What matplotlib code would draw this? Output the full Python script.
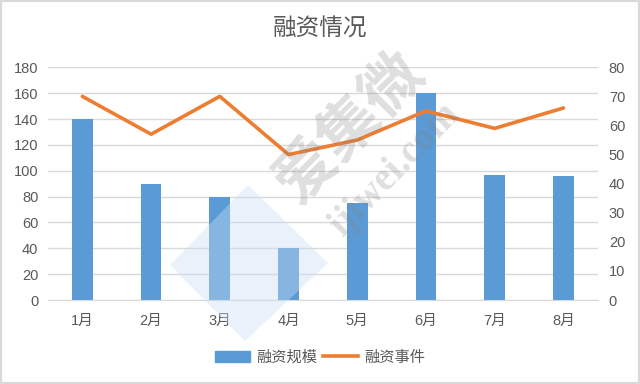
"""
融资情况 - 融资规模(柱) + 融资事件(折线) 双轴图
"""
import numpy as np
import matplotlib.pyplot as plt
from matplotlib.patches import Polygon, Rectangle
from matplotlib.lines import Line2D

plt.rcParams['font.family'] = ['Liberation Sans', 'Noto Sans CJK SC', 'DejaVu Sans']

# 数据
months = ['1月', '2月', '3月', '4月', '5月', '6月', '7月', '8月']
scale = [140, 90, 80, 40, 75, 160, 97, 96]      # 融资规模
events = [70, 57, 70, 50, 55, 65, 59, 66]       # 融资事件

blue = '#5b9bd5'
orange = '#ed7d31'
grid_c = '#d9d9d9'
text_c = '#595959'

fig = plt.figure(figsize=(6.4, 3.84), dpi=100)
ax = fig.add_axes([0.075, 0.21875, 0.859, 0.606])
ax2 = ax.twinx()

x = np.arange(len(months))
ax.bar(x, scale, width=0.3, color=blue, zorder=2)
ax2.plot(x, events, color=orange, lw=2.6, solid_capstyle='round', zorder=3)

ax.set_xlim(-0.5, len(months) - 0.5)
ax.set_ylim(0, 180)
ax.set_yticks(range(0, 181, 20))
ax2.set_ylim(0, 80)
ax2.set_yticks(range(0, 81, 10))

ax.set_xticks(x)
ax.set_xticklabels(months)
ax.grid(axis='y', color=grid_c, lw=1, zorder=0)
ax.set_axisbelow(True)

for a in (ax, ax2):
    for s in a.spines.values():
        s.set_visible(False)
    a.tick_params(length=0, labelsize=10.5, colors=text_c)
ax.spines['bottom'].set_visible(True)
ax.spines['bottom'].set_color(grid_c)
ax.tick_params(axis='x', pad=10)
ax.tick_params(axis='y', pad=7)
ax2.tick_params(axis='y', pad=8)

fig.text(0.5, 0.925, '融资情况', ha='center', va='center', fontsize=17,
         color=text_c, family=['Noto Sans CJK SC'])

# 图例
handles = [Rectangle((0, 0), 1, 1, color=blue),
           Line2D([], [], color=orange, lw=2.6)]
fig.legend(handles, ['融资规模', '融资事件'], loc='center', ncol=2,
           bbox_to_anchor=(0.5, 0.07), frameon=False,
           handlelength=2.3, handleheight=0.7, handletextpad=0.4,
           columnspacing=0.4, labelcolor=text_c,
           prop={'family': ['Noto Sans CJK SC'], 'size': 11})

# 水印
W, H = 640, 384
diamond = np.array([[170, 265], [248, 185], [328, 263], [245, 341]], float)
diamond[:, 0] /= W
diamond[:, 1] = 1 - diamond[:, 1] / H
fig.add_artist(Polygon(diamond, closed=True, transform=fig.transFigure,
                       facecolor='#c9ddf5', alpha=0.4, edgecolor='none', zorder=5))
fig.text(350 / W, 1 - 128 / H, '爱集微', rotation=45, ha='center', va='center',
         fontsize=44, color='#808080', alpha=0.25, family=['Noto Sans CJK SC'],
         fontweight='bold', zorder=6)
fig.text(395 / W, 1 - 170 / H, 'ijiwei.com', rotation=46, ha='center', va='center',
         fontsize=28, color='#808080', alpha=0.25, family=['Liberation Serif'],
         fontweight='bold', zorder=6)

# 外框
fig.add_artist(Rectangle((0, 0), 1, 1, transform=fig.transFigure, fill=False,
                         edgecolor=grid_c, lw=3))

plt.savefig('out.png', dpi=100)
